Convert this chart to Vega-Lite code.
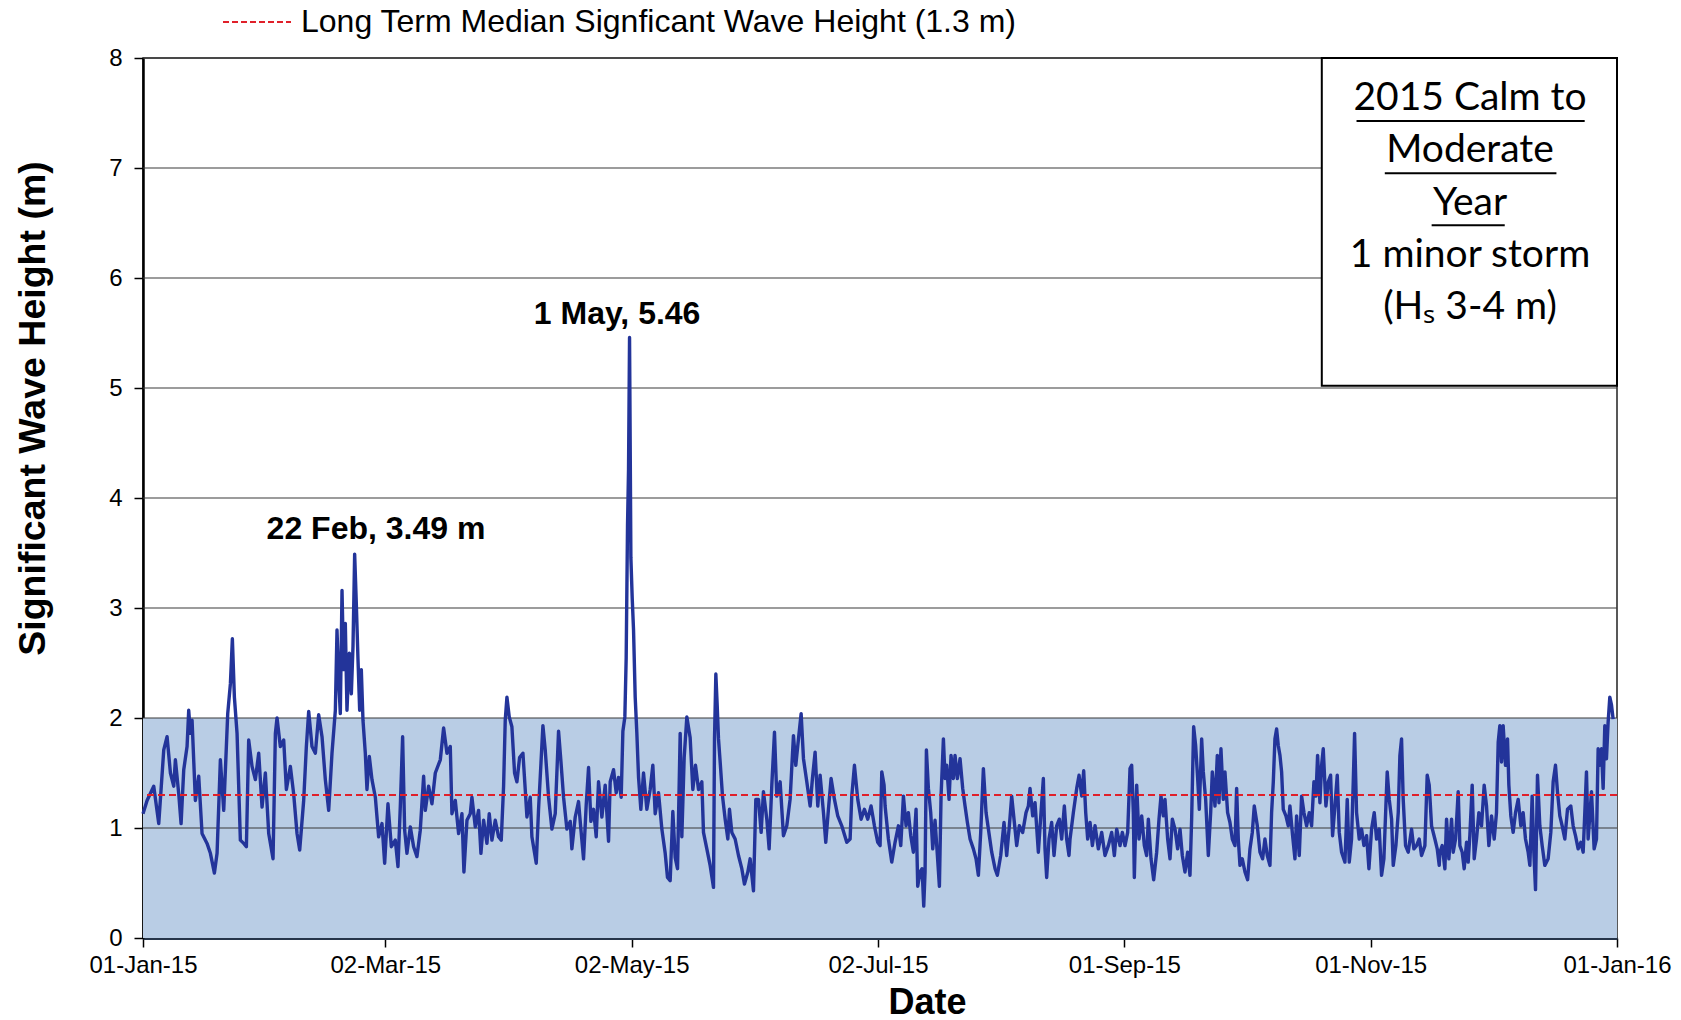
{
  "$schema": "https://vega.github.io/schema/vega-lite/v6.json",
  "width": 1474,
  "height": 880,
  "autosize": {"type": "none"},
  "padding": {"left": 143, "top": 58, "right": 64, "bottom": 82},
  "background": "white",
  "config": {
    "view": {"stroke": "#222222", "strokeWidth": 1.5},
    "font": "Liberation Sans",
    "axis": {
      "labelFont": "Liberation Sans", "labelFontSize": 24, "labelColor": "#000000",
      "titleFont": "Liberation Sans", "titleFontSize": 36, "titleFontWeight": "bold", "titleColor": "#000000",
      "tickColor": "#000000", "tickSize": 9, "tickWidth": 1.5, "grid": false
    }
  },
  "datasets": {
    "waves": [
      {"d":0,"hs":1.13},{"d":1.01,"hs":1.25},{"d":2.66,"hs":1.38},{"d":3.9,"hs":1.04},{"d":5.14,"hs":1.71},{"d":5.96,"hs":1.83},{"d":6.79,"hs":1.5},{"d":7.61,"hs":1.38},{"d":8.02,"hs":1.62},{"d":8.85,"hs":1.31},{"d":9.43,"hs":1.04},{"d":10.09,"hs":1.53},{"d":10.91,"hs":1.74},{"d":11.32,"hs":2.07},{"d":11.74,"hs":1.86},{"d":12.15,"hs":1.98},{"d":12.97,"hs":1.25},{"d":13.8,"hs":1.47},{"d":14.62,"hs":0.95},{"d":15.86,"hs":0.86},{"d":16.69,"hs":0.77},{"d":17.68,"hs":0.59},{"d":18.34,"hs":0.77},{"d":19.16,"hs":1.62},{"d":19.99,"hs":1.16},{"d":20.98,"hs":2.04},{"d":21.64,"hs":2.31},{"d":22.13,"hs":2.72},{"d":22.63,"hs":2.19},{"d":23.29,"hs":1.86},{"d":24.11,"hs":0.89},{"d":24.94,"hs":0.86},{"d":25.6,"hs":0.83},{"d":26.17,"hs":1.8},{"d":27.0,"hs":1.56},{"d":27.83,"hs":1.44},{"d":28.65,"hs":1.68},{"d":29.48,"hs":1.19},{"d":30.3,"hs":1.5},{"d":31.13,"hs":0.95},{"d":32.2,"hs":0.72},{"d":32.78,"hs":1.86},{"d":33.19,"hs":2.0},{"d":34.01,"hs":1.74},{"d":34.84,"hs":1.8},{"d":35.5,"hs":1.35},{"d":36.49,"hs":1.56},{"d":37.31,"hs":1.31},{"d":38.14,"hs":0.95},{"d":38.8,"hs":0.8},{"d":39.79,"hs":1.25},{"d":40.45,"hs":1.74},{"d":41.03,"hs":2.06},{"d":41.85,"hs":1.74},{"d":42.68,"hs":1.68},{"d":43.5,"hs":2.03},{"d":44.33,"hs":1.83},{"d":45.15,"hs":1.44},{"d":45.98,"hs":1.16},
      {"d":46.8,"hs":1.68},{"d":47.63,"hs":2.07},{"d":48.04,"hs":2.8},{"d":48.45,"hs":2.35},{"d":48.86,"hs":2.04},{"d":49.28,"hs":3.16},{"d":49.69,"hs":2.44},{"d":50.1,"hs":2.86},{"d":50.51,"hs":2.07},{"d":51.09,"hs":2.59},{"d":51.59,"hs":2.22},{"d":52.0,"hs":2.65},{"d":52.41,"hs":3.49},{"d":52.82,"hs":3.04},{"d":53.24,"hs":2.53},{"d":53.65,"hs":2.07},{"d":54.06,"hs":2.44},{"d":54.47,"hs":1.98},{"d":55.05,"hs":1.68},{"d":55.46,"hs":1.35},{"d":56.04,"hs":1.65},{"d":56.7,"hs":1.44},{"d":57.53,"hs":1.28},{"d":58.35,"hs":0.92},{"d":59.18,"hs":1.04},{"d":59.84,"hs":0.68},{"d":60.66,"hs":1.22},{"d":61.49,"hs":0.83},{"d":62.48,"hs":0.89},{"d":63.14,"hs":0.65},{"d":63.71,"hs":1.19},{"d":64.29,"hs":1.83},{"d":64.79,"hs":0.98},{"d":65.36,"hs":0.77},{"d":66.19,"hs":1.01},{"d":67.01,"hs":0.83},{"d":67.84,"hs":0.74},{"d":68.66,"hs":0.98},{"d":69.49,"hs":1.47},{"d":69.9,"hs":1.16},{"d":70.73,"hs":1.38},{"d":71.55,"hs":1.22},{"d":72.38,"hs":1.5},{"d":73.62,"hs":1.62},{"d":74.44,"hs":1.91},{"d":75.27,"hs":1.68},{"d":76.09,"hs":1.74},{"d":76.5,"hs":1.13},{"d":77.33,"hs":1.25},{"d":78.15,"hs":0.95},{"d":78.98,"hs":1.13},{"d":79.47,"hs":0.6},{"d":80.22,"hs":1.07},{"d":81.04,"hs":1.13},{"d":81.45,"hs":1.28},{"d":82.28,"hs":1.01},{"d":83.1,"hs":1.16},{"d":83.68,"hs":0.77},{"d":84.34,"hs":1.07},{"d":85.17,"hs":0.86},{"d":85.74,"hs":1.13},{"d":86.4,"hs":0.89},{"d":87.23,"hs":1.07},{"d":88.05,"hs":0.92},{"d":88.71,"hs":0.89},{"d":89.29,"hs":1.38},{"d":89.7,"hs":1.98},{"d":90.12,"hs":2.19},{"d":90.69,"hs":2.01},{"d":91.35,"hs":1.92},{"d":92.01,"hs":1.5},
      {"d":92.59,"hs":1.42},{"d":93.25,"hs":1.64},{"d":94.08,"hs":1.68},{"d":94.65,"hs":1.35},{"d":95.07,"hs":1.1},{"d":95.89,"hs":1.28},{"d":96.3,"hs":0.92},{"d":97.38,"hs":0.68},{"d":97.95,"hs":1.17},{"d":99.03,"hs":1.93},{"d":99.6,"hs":1.71},{"d":100.43,"hs":1.28},{"d":101.25,"hs":0.99},{"d":102.08,"hs":1.13},{"d":102.9,"hs":1.88},{"d":103.48,"hs":1.61},{"d":104.14,"hs":1.28},{"d":104.97,"hs":0.99},{"d":105.79,"hs":1.06},{"d":106.2,"hs":0.81},{"d":107.03,"hs":1.1},{"d":107.85,"hs":1.24},{"d":108.43,"hs":0.99},{"d":109.09,"hs":0.72},{"d":109.75,"hs":1.21},{"d":110.33,"hs":1.55},{"d":110.91,"hs":1.06},{"d":111.57,"hs":1.17},{"d":112.23,"hs":0.92},{"d":112.8,"hs":1.42},{"d":113.63,"hs":1.1},{"d":114.45,"hs":1.39},{"d":115.28,"hs":0.88},{"d":115.69,"hs":1.42},{"d":116.52,"hs":1.53},{"d":117.18,"hs":1.32},{"d":117.76,"hs":1.46},{"d":118.41,"hs":1.28},{"d":118.83,"hs":1.88},{"d":119.32,"hs":2.01},{"d":119.65,"hs":2.55},{"d":119.98,"hs":3.75},{"d":120.23,"hs":4.26},{"d":120.48,"hs":5.46},{"d":120.81,"hs":3.46},{"d":121.14,"hs":3.09},{"d":121.47,"hs":2.8},{"d":121.88,"hs":2.19},{"d":122.29,"hs":1.86},{"d":122.71,"hs":1.46},{"d":123.28,"hs":1.17},{"d":123.94,"hs":1.5},{"d":124.77,"hs":1.17},{"d":125.59,"hs":1.35},{"d":126.25,"hs":1.57},{"d":126.83,"hs":1.13},{"d":127.66,"hs":1.32},{"d":128.48,"hs":0.99},{"d":129.31,"hs":0.77},{"d":129.88,"hs":0.55},{"d":130.54,"hs":0.52},{"d":131.2,"hs":1.15},{"d":131.78,"hs":0.73},{"d":132.36,"hs":0.63},{"d":133.02,"hs":1.86},{"d":133.43,"hs":0.92},{"d":134.01,"hs":1.64},{"d":134.67,"hs":2.01},{"d":135.49,"hs":1.82},{"d":136.15,"hs":1.35},{"d":136.81,"hs":1.57},{"d":137.56,"hs":1.35},
      {"d":138.38,"hs":1.42},{"d":138.79,"hs":0.96},{"d":139.62,"hs":0.81},{"d":140.44,"hs":0.66},{"d":141.27,"hs":0.46},{"d":141.52,"hs":1.81},{"d":141.85,"hs":2.4},{"d":142.18,"hs":2.12},{"d":142.51,"hs":1.81},{"d":142.92,"hs":1.6},{"d":143.5,"hs":1.29},{"d":144.16,"hs":1.08},{"d":144.82,"hs":0.9},{"d":145.23,"hs":1.17},{"d":145.81,"hs":0.96},{"d":146.63,"hs":0.9},{"d":147.46,"hs":0.75},{"d":148.28,"hs":0.63},{"d":148.94,"hs":0.49},{"d":149.77,"hs":0.6},{"d":150.34,"hs":0.72},{"d":151.17,"hs":0.43},{"d":151.75,"hs":1.26},{"d":152.41,"hs":1.26},{"d":153.07,"hs":0.96},{"d":153.64,"hs":1.33},{"d":154.47,"hs":1.08},{"d":155.05,"hs":0.81},{"d":155.71,"hs":1.39},{"d":156.37,"hs":1.87},{"d":156.94,"hs":1.29},{"d":157.77,"hs":1.42},{"d":158.59,"hs":0.93},{"d":159.42,"hs":1.02},{"d":160.24,"hs":1.26},{"d":161.07,"hs":1.84},{"d":161.65,"hs":1.57},{"d":162.31,"hs":1.81},{"d":162.97,"hs":2.04},{"d":163.55,"hs":1.63},{"d":164.37,"hs":1.42},{"d":165.2,"hs":1.2},{"d":165.77,"hs":1.45},{"d":166.43,"hs":1.69},{"d":167.09,"hs":1.2},{"d":167.67,"hs":1.48},{"d":168.5,"hs":1.14},{"d":169.07,"hs":0.87},{"d":169.73,"hs":1.17},{"d":170.39,"hs":1.45},{"d":171.22,"hs":1.26},{"d":172.04,"hs":1.11},{"d":173.03,"hs":1.02},{"d":174.27,"hs":0.87},{"d":175.1,"hs":0.9},{"d":175.51,"hs":1.29},{"d":176.17,"hs":1.57},{"d":176.99,"hs":1.26},{"d":177.82,"hs":1.08},{"d":178.64,"hs":1.17},{"d":179.47,"hs":1.08},{"d":180.29,"hs":1.2},{"d":181.12,"hs":1.02},{"d":181.94,"hs":0.87},{"d":182.52,"hs":0.84},{"d":182.94,"hs":1.51},{"d":183.51,"hs":1.39},
      {"d":183.76,"hs":1.2},{"d":184.58,"hs":0.9},{"d":185.41,"hs":0.69},{"d":186.23,"hs":0.87},{"d":187.06,"hs":1.02},{"d":187.64,"hs":0.84},{"d":188.3,"hs":1.29},{"d":188.96,"hs":1.02},{"d":189.53,"hs":1.14},{"d":190.11,"hs":0.93},{"d":190.77,"hs":0.78},{"d":191.43,"hs":1.17},{"d":191.84,"hs":0.47},{"d":192.42,"hs":0.6},{"d":192.92,"hs":0.63},{"d":193.33,"hs":0.29},{"d":193.66,"hs":0.6},{"d":193.99,"hs":1.71},{"d":194.48,"hs":1.36},{"d":195.06,"hs":1.14},{"d":195.56,"hs":0.81},{"d":196.13,"hs":1.07},{"d":196.71,"hs":0.75},{"d":197.21,"hs":0.47},{"d":197.62,"hs":1.29},{"d":198.2,"hs":1.81},{"d":198.61,"hs":1.45},{"d":199.02,"hs":1.57},{"d":199.6,"hs":1.26},{"d":200.09,"hs":1.66},{"d":200.67,"hs":1.45},{"d":201.08,"hs":1.66},{"d":201.66,"hs":1.45},{"d":202.32,"hs":1.63},{"d":202.98,"hs":1.36},{"d":203.56,"hs":1.2},{"d":204.14,"hs":1.05},{"d":204.8,"hs":0.9},{"d":205.62,"hs":0.81},{"d":206.28,"hs":0.72},{"d":206.86,"hs":0.57},{"d":207.44,"hs":0.96},{"d":208.1,"hs":1.54},{"d":208.76,"hs":1.14},{"d":209.34,"hs":0.99},{"d":210.16,"hs":0.78},{"d":210.99,"hs":0.63},{"d":211.56,"hs":0.57},{"d":212.39,"hs":0.75},{"d":213.21,"hs":1.05},{"d":213.87,"hs":0.75},{"d":214.53,"hs":1.02},{"d":215.11,"hs":1.29},{"d":215.77,"hs":1.05},{"d":216.35,"hs":0.84},{"d":217.01,"hs":1.02},{"d":217.83,"hs":0.96},{"d":218.66,"hs":1.14},{"d":219.24,"hs":1.2},{"d":219.65,"hs":1.36},{"d":220.31,"hs":1.11},{"d":220.89,"hs":1.23},{"d":221.71,"hs":0.78},{"d":222.37,"hs":1.14},{"d":222.95,"hs":1.45},{"d":223.36,"hs":0.81},{"d":223.77,"hs":0.55},{"d":224.35,"hs":0.9},{"d":225.01,"hs":1.05},{"d":225.59,"hs":0.75},{"d":226.25,"hs":1.02},{"d":226.91,"hs":1.08},{"d":227.49,"hs":0.9},{"d":228.15,"hs":1.2},{"d":228.72,"hs":0.9},{"d":229.3,"hs":0.75},
      {"d":229.56,"hs":0.9},{"d":230.38,"hs":1.14},{"d":231.21,"hs":1.36},{"d":231.79,"hs":1.48},{"d":232.45,"hs":1.29},{"d":232.94,"hs":1.52},{"d":233.44,"hs":1.14},{"d":233.93,"hs":0.9},{"d":234.51,"hs":1.05},{"d":235.09,"hs":0.84},{"d":235.75,"hs":1.02},{"d":236.57,"hs":0.81},{"d":237.4,"hs":0.96},{"d":238.22,"hs":0.75},{"d":239.05,"hs":0.84},{"d":239.87,"hs":0.96},{"d":240.53,"hs":0.75},{"d":241.11,"hs":0.99},{"d":241.93,"hs":0.84},{"d":242.51,"hs":0.96},{"d":243.17,"hs":0.84},{"d":243.83,"hs":0.96},{"d":244.41,"hs":1.54},{"d":244.82,"hs":1.57},{"d":245.23,"hs":1.14},{"d":245.48,"hs":0.55},{"d":246.06,"hs":1.39},{"d":246.64,"hs":0.9},{"d":247.3,"hs":1.11},{"d":247.96,"hs":0.84},{"d":248.53,"hs":0.75},{"d":248.95,"hs":1.08},{"d":249.61,"hs":0.72},{"d":250.27,"hs":0.53},{"d":251.01,"hs":0.78},{"d":251.59,"hs":1.08},{"d":252.08,"hs":1.29},{"d":252.66,"hs":1.11},{"d":253.07,"hs":1.26},{"d":253.73,"hs":0.9},{"d":254.31,"hs":0.72},{"d":254.89,"hs":1.08},{"d":255.55,"hs":0.99},{"d":256.21,"hs":0.81},{"d":256.79,"hs":0.99},{"d":257.36,"hs":0.75},{"d":258.02,"hs":0.6},{"d":258.68,"hs":0.78},{"d":259.26,"hs":0.57},{"d":259.67,"hs":1.08},{"d":259.92,"hs":1.51},{"d":260.17,"hs":1.92},{"d":260.66,"hs":1.75},{"d":261.16,"hs":1.45},{"d":261.57,"hs":1.17},{"d":262.15,"hs":1.81},{"d":262.56,"hs":1.51},{"d":263.14,"hs":1.26},{"d":263.8,"hs":0.75},{"d":264.38,"hs":1.14},{"d":264.79,"hs":1.51},{"d":265.45,"hs":1.2},{"d":266.03,"hs":1.66},{"d":266.44,"hs":1.23},{"d":266.93,"hs":1.72},{"d":267.51,"hs":1.26},{"d":267.92,"hs":1.51},{"d":268.58,"hs":1.14},{"d":269.16,"hs":1.05},{"d":269.74,"hs":0.9},{"d":270.4,"hs":0.84},{"d":270.81,"hs":1.36},{"d":271.22,"hs":0.9},{"d":271.64,"hs":0.66},{"d":272.21,"hs":0.72},{"d":272.88,"hs":0.6},{"d":273.53,"hs":0.53},{"d":274.11,"hs":0.81},{"d":274.69,"hs":0.96},{"d":275.18,"hs":1.2},
      {"d":275.93,"hs":1.02},{"d":276.59,"hs":0.78},{"d":277.25,"hs":0.72},{"d":277.82,"hs":0.9},{"d":278.4,"hs":0.75},{"d":279.06,"hs":0.66},{"d":279.47,"hs":1.14},{"d":279.89,"hs":1.42},{"d":280.3,"hs":1.81},{"d":280.71,"hs":1.9},{"d":281.12,"hs":1.75},{"d":281.54,"hs":1.66},{"d":281.95,"hs":1.51},{"d":282.36,"hs":1.17},{"d":283.02,"hs":1.11},{"d":283.6,"hs":1.02},{"d":284.01,"hs":1.2},{"d":284.67,"hs":0.93},{"d":285.25,"hs":0.72},{"d":285.66,"hs":1.11},{"d":286.32,"hs":0.75},{"d":286.9,"hs":1.29},{"d":287.48,"hs":1.14},{"d":288.14,"hs":1.02},{"d":288.8,"hs":1.14},{"d":289.37,"hs":1.02},{"d":289.95,"hs":1.42},{"d":290.45,"hs":1.29},{"d":290.86,"hs":1.66},{"d":291.44,"hs":1.23},{"d":291.85,"hs":1.57},{"d":292.26,"hs":1.72},{"d":292.92,"hs":1.2},{"d":293.5,"hs":1.42},{"d":294.08,"hs":1.48},{"d":294.57,"hs":0.93},{"d":295.15,"hs":1.2},{"d":295.73,"hs":1.48},{"d":296.22,"hs":0.96},{"d":296.8,"hs":0.78},{"d":297.63,"hs":0.69},{"d":298.2,"hs":1.26},{"d":298.7,"hs":0.69},{"d":299.27,"hs":0.9},{"d":299.69,"hs":1.42},{"d":300.02,"hs":1.86},{"d":300.51,"hs":1.14},{"d":301.17,"hs":0.9},{"d":301.75,"hs":0.99},{"d":302.33,"hs":0.84},{"d":302.99,"hs":0.93},{"d":303.57,"hs":0.63},{"d":304.23,"hs":0.99},{"d":304.89,"hs":1.14},{"d":305.46,"hs":0.9},{"d":306.12,"hs":0.99},{"d":306.7,"hs":0.57},{"d":307.28,"hs":0.72},{"d":307.77,"hs":1.2},{"d":308.1,"hs":1.51},{"d":308.6,"hs":1.26},{"d":309.18,"hs":1.08},{"d":309.59,"hs":0.66},{"d":310.25,"hs":0.84},{"d":310.83,"hs":1.14},{"d":311.24,"hs":1.66},{"d":311.65,"hs":1.81},{"d":312.06,"hs":1.26},{"d":312.64,"hs":0.84},{"d":313.3,"hs":0.78},{"d":314.13,"hs":0.99},{"d":314.7,"hs":0.81},{"d":315.36,"hs":0.84},{"d":316.02,"hs":0.9},{"d":316.6,"hs":0.75},{"d":317.43,"hs":0.84},{"d":318.0,"hs":1.48},{"d":318.5,"hs":1.39},{"d":319.08,"hs":1.02},{"d":319.9,"hs":0.9},{"d":320.48,"hs":0.81},{"d":320.98,"hs":0.66},
      {"d":321.14,"hs":0.78},{"d":321.72,"hs":0.84},{"d":322.38,"hs":0.63},{"d":322.79,"hs":1.08},{"d":323.37,"hs":0.72},{"d":324.03,"hs":1.08},{"d":324.44,"hs":0.78},{"d":325.02,"hs":0.9},{"d":325.68,"hs":1.33},{"d":326.09,"hs":0.84},{"d":326.67,"hs":0.78},{"d":327.16,"hs":0.63},{"d":327.74,"hs":0.87},{"d":328.15,"hs":0.69},{"d":328.56,"hs":0.93},{"d":329.14,"hs":1.39},{"d":329.64,"hs":0.72},{"d":330.21,"hs":0.9},{"d":330.79,"hs":1.14},{"d":331.45,"hs":1.02},{"d":332.11,"hs":1.39},{"d":332.69,"hs":1.2},{"d":333.27,"hs":0.84},{"d":333.93,"hs":1.11},{"d":334.59,"hs":0.9},{"d":335.16,"hs":1.14},{"d":335.58,"hs":1.78},{"d":335.99,"hs":1.93},{"d":336.4,"hs":1.6},{"d":336.81,"hs":1.93},{"d":337.39,"hs":1.57},{"d":337.89,"hs":1.81},{"d":338.22,"hs":1.39},{"d":338.71,"hs":1.11},{"d":339.29,"hs":0.96},{"d":339.87,"hs":1.14},{"d":340.53,"hs":1.26},{"d":341.19,"hs":1.02},{"d":341.76,"hs":1.14},{"d":342.34,"hs":0.9},{"d":343.0,"hs":0.78},{"d":343.42,"hs":0.66},{"d":343.99,"hs":1.29},{"d":344.41,"hs":0.78},{"d":344.82,"hs":0.44},{"d":345.31,"hs":1.48},{"d":345.89,"hs":1.02},{"d":346.47,"hs":0.84},{"d":347.13,"hs":0.66},{"d":347.95,"hs":0.72},{"d":348.61,"hs":0.96},{"d":349.19,"hs":1.42},{"d":349.77,"hs":1.57},{"d":350.26,"hs":1.33},{"d":350.84,"hs":1.11},{"d":351.42,"hs":1.02},{"d":352.08,"hs":0.9},{"d":352.74,"hs":1.17},{"d":353.56,"hs":1.2},{"d":354.14,"hs":1.02},{"d":354.72,"hs":0.93},{"d":355.38,"hs":0.81},{"d":356.04,"hs":0.87},{"d":356.62,"hs":0.78},{"d":357.03,"hs":1.14},{"d":357.44,"hs":1.51},{"d":357.85,"hs":0.9},{"d":358.27,"hs":1.11},{"d":358.68,"hs":1.33},{"d":359.34,"hs":0.81},{"d":359.92,"hs":0.9},{"d":360.33,"hs":1.72},{"d":360.74,"hs":1.57},{"d":361.15,"hs":1.72},{"d":361.57,"hs":1.36},{"d":361.98,"hs":1.93},{"d":362.39,"hs":1.63},{"d":362.8,"hs":1.96},{"d":363.22,"hs":2.19},{"d":363.63,"hs":2.12},{"d":364.04,"hs":1.99}
    ],
    "band": [{"x0": 0, "x1": 365, "y0": 0, "y1": 2}],
    "grid": [{"g": 1}, {"g": 2}, {"g": 3}, {"g": 4}, {"g": 5}, {"g": 6}, {"g": 7}, {"g": 8}],
    "notes": [
      {"d": 57.7, "v": 3.72, "label": "22 Feb, 3.49 m"},
      {"d": 117.4, "v": 5.67, "label": "1 May, 5.46"}
    ],
    "box": [{"a": 291.9, "b": 365, "top": 8, "bot": 5.02}],
    "boxtext": [
      {"d": 328.6, "v": 7.634, "t": "2015 Calm to"},
      {"d": 328.6, "v": 7.16, "t": "Moderate"},
      {"d": 328.6, "v": 6.686, "t": "Year"},
      {"d": 328.6, "v": 6.212, "t": "1 minor storm"},
      {"d": 328.6, "v": 5.738, "t": "(Hₛ 3-4 m)"}
    ],
    "underline": [
      {"a": 300.5, "b": 357.0, "v": 7.427},
      {"a": 307.5, "b": 350.0, "v": 6.953},
      {"a": 319.1, "b": 337.2, "v": 6.479}
    ]
  },
  "layer": [
    {
      "data": {"name": "band"},
      "mark": {"type": "rect", "color": "#B9CDE5"},
      "encoding": {
        "x": {"field": "x0", "type": "quantitative", "title": "Date",
          "scale": {"domain": [0, 365], "nice": false, "zero": false},
          "axis": {"values": [0, 60, 121, 182, 243, 304, 365],
            "labelExpr": "timeFormat(datetime(2015, 0, 1 + datum.value), '%d-%b-%y')",
            "labelPadding": 6, "titlePadding": 8, "titleX": 784, "domainColor": "#26354A", "domainWidth": 3, "labelFlush": false}},
        "x2": {"field": "x1"},
        "y": {"field": "y0", "type": "quantitative", "title": "Significant Wave Height (m)",
          "scale": {"domain": [0, 8], "nice": false},
          "axis": {"values": [0, 1, 2, 3, 4, 5, 6, 7, 8], "format": "d", "labelPadding": 12, "titlePadding": 56, "titleY": 350, "titleFontSize": 37.5, "domainColor": "#000000", "domainWidth": 2.5}},
        "y2": {"field": "y1"}
      }
    },
    {
      "data": {"name": "grid"},
      "mark": {"type": "rule", "color": "#3A3A3A", "strokeWidth": 1.2},
      "encoding": {
        "y": {"field": "g", "type": "quantitative", "title": "Significant Wave Height (m)"}
      }
    },
    {
      "data": {"name": "waves"},
      "mark": {"type": "line", "color": "#23349A", "strokeWidth": 3.4, "strokeJoin": "round"},
      "encoding": {
        "x": {"field": "d", "type": "quantitative", "title": "Date"},
        "y": {"field": "hs", "type": "quantitative", "title": "Significant Wave Height (m)"}
      }
    },
    {
      "data": {"values": [{}]},
      "mark": {"type": "rule", "strokeDash": [7, 4], "strokeWidth": 2},
      "encoding": {
        "y": {"datum": 1.3, "type": "quantitative"},
        "color": {"datum": "Long Term Median Signficant Wave Height (1.3 m)",
          "scale": {"range": ["#E0202A"]},
          "legend": {"orient": "none", "legendX": 79, "legendY": -71, "title": null, "padding": 0,
            "symbolType": "stroke", "symbolSize": 4624, "symbolStrokeWidth": 2, "symbolDash": [6, 3],
            "labelFont": "Liberation Sans", "labelFontSize": 32, "labelColor": "#000000", "labelOffset": 9, "labelLimit": 1200}}
      }
    },
    {
      "data": {"name": "notes"},
      "mark": {"type": "text", "font": "Liberation Sans", "fontSize": 32, "fontWeight": "bold", "color": "#000000", "align": "center", "baseline": "middle"},
      "encoding": {
        "x": {"field": "d", "type": "quantitative", "title": "Date"},
        "y": {"field": "v", "type": "quantitative", "title": "Significant Wave Height (m)"},
        "text": {"field": "label"}
      }
    },
    {
      "data": {"name": "box"},
      "mark": {"type": "rect", "fill": "#FFFFFF", "stroke": "#000000", "strokeWidth": 2},
      "encoding": {
        "x": {"field": "a", "type": "quantitative", "title": "Date"},
        "x2": {"field": "b"},
        "y": {"field": "top", "type": "quantitative", "title": "Significant Wave Height (m)"},
        "y2": {"field": "bot"}
      }
    },
    {
      "data": {"name": "boxtext"},
      "mark": {"type": "text", "font": "Lato", "fontSize": 39, "color": "#000000", "align": "center", "baseline": "middle"},
      "encoding": {
        "x": {"field": "d", "type": "quantitative", "title": "Date"},
        "y": {"field": "v", "type": "quantitative", "title": "Significant Wave Height (m)"},
        "text": {"field": "t"}
      }
    },
    {
      "data": {"name": "underline"},
      "mark": {"type": "rule", "color": "#000000", "strokeWidth": 2},
      "encoding": {
        "x": {"field": "a", "type": "quantitative", "title": "Date"},
        "x2": {"field": "b"},
        "y": {"field": "v", "type": "quantitative", "title": "Significant Wave Height (m)"}
      }
    }
  ]
}
